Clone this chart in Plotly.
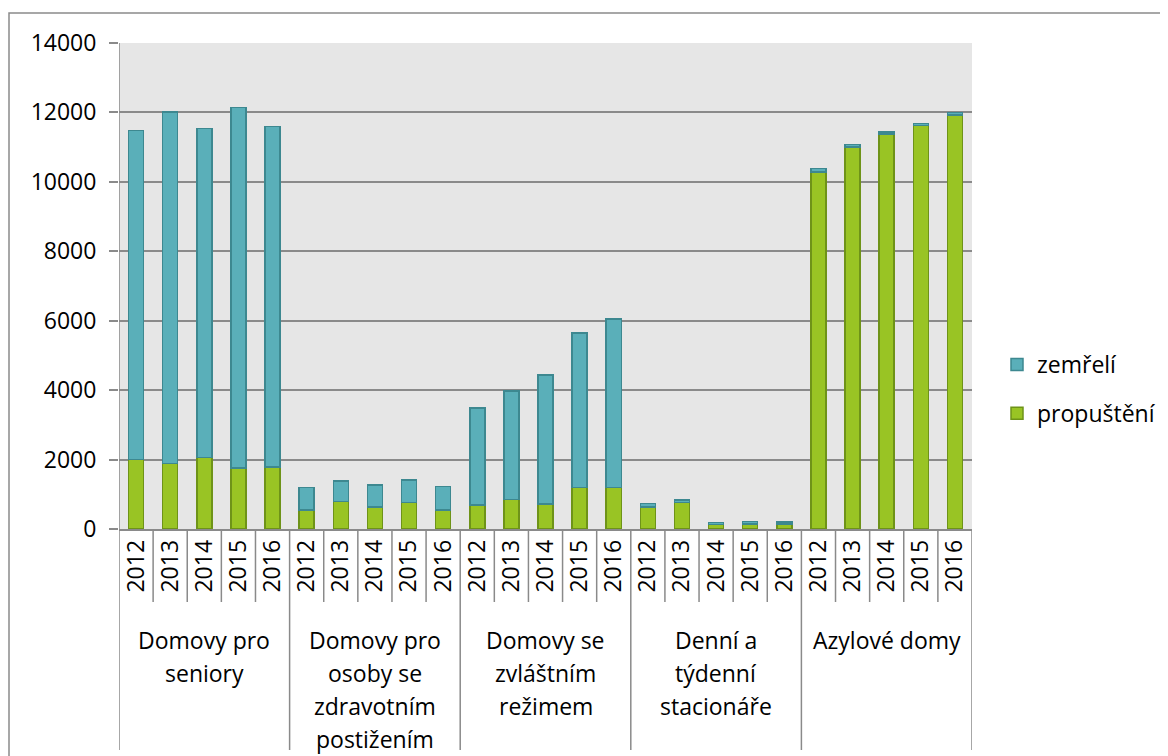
import plotly.graph_objects as go

GROUPS = [
    "Domovy pro<br>seniory",
    "Domovy pro<br>osoby se<br>zdravotním<br>postižením",
    "Domovy se<br>zvláštním<br>režimem",
    "Denní a<br>týdenní<br>stacionáře",
    "Azylové domy",
]
YEARS = ["2012", "2013", "2014", "2015", "2016"]

propusteni = [2000, 1890, 2060, 1760, 1790,
              550, 790, 640, 760, 550,
              690, 850, 720, 1190, 1200,
              640, 760, 135, 150, 145,
              10290, 11000, 11380, 11620, 11930]
zemreli = [9480, 10120, 9480, 10380, 9810,
           650, 590, 625, 650, 670,
           2800, 3130, 3710, 4460, 4850,
           100, 80, 55, 60, 55,
           100, 70, 60, 60, 70]

TEAL, TEAL_EDGE = "#5aafb9", "#3d8890"
GREEN, GREEN_EDGE = "#99c424", "#6e9318"
GRID = "#8a8a8a"
FONT = "Open Sans"
FS = 23

n_years = len(YEARS)
labels = [y for _ in GROUPS for y in YEARS]
xpos = list(range(len(labels)))

fig = go.Figure()
fig.add_trace(go.Bar(
    x=xpos, y=propusteni, name="propuštění", width=0.44,
    marker=dict(color=GREEN, line=dict(color=GREEN_EDGE, width=1.5)),
    legendgroup="p", legendrank=2,
))
fig.add_trace(go.Bar(
    x=xpos, y=zemreli, name="zemřelí", width=0.44,
    marker=dict(color=TEAL, line=dict(color=TEAL_EDGE, width=1.5)),
    legendgroup="z", legendrank=1,
))

# page has an 8px body margin, so the figure is drawn 8px smaller
OFF = 8
W, H = 1168 - OFF, 756 - OFF
L, T = 119 - OFF, 43 - OFF
plot_w, plot_h = 853, 486
R = W - L - plot_w
B = H - T - plot_h


def py(page_y):
    # page pixel row -> paper y
    return (T + plot_h - (page_y - OFF)) / plot_h


def px_(page_x):
    # page pixel column -> paper x
    return (page_x - OFF - L) / plot_w


shapes = []
# separators between years (short) and between groups (long)
for i in range(len(labels) + 1):
    xb = i - 0.5
    is_group = i % n_years == 0
    shapes.append(dict(
        type="line", xref="x", yref="paper",
        x0=xb, x1=xb,
        y0=1 if i == 0 else 0,
        y1=py(750) if is_group else py(602),
        line=dict(color=GRID, width=1.5),
    ))
# outer frame
shapes.append(dict(
    type="rect", xref="paper", yref="paper",
    x0=px_(9), x1=1.5, y0=-1, y1=py(13),
    line=dict(color=GRID, width=1.5), fillcolor="rgba(0,0,0,0)", layer="below",
))

annotations = []
for g, name in enumerate(GROUPS):
    xc = g * n_years + (n_years - 1) / 2
    for k, line in enumerate(name.split("<br>")):
        annotations.append(dict(
            x=xc, xref="x", y=py(640 + 33 * k), yref="paper",
            text=line, showarrow=False, xanchor="center", yanchor="middle",
            font=dict(family=FONT, size=FS, color="#000000"),
        ))

fig.update_layout(
    width=W, height=H,
    margin=dict(l=L, r=R, t=T, b=B, autoexpand=False),
    barmode="stack",
    paper_bgcolor="white",
    plot_bgcolor="#e6e6e6",
    font=dict(family=FONT, size=FS, color="#000000"),
    showlegend=True,
    legend=dict(
        xref="container", yref="container",
        x=(997 - OFF) / W, xanchor="left",
        y=1 - (389 - OFF) / H, yanchor="middle",
        traceorder="grouped", tracegroupgap=16,
        itemwidth=30,
        font=dict(family=FONT, size=FS, color="#000000"),
        bgcolor="rgba(0,0,0,0)",
    ),
    xaxis=dict(
        range=[-0.5, len(labels) - 0.5],
        tickmode="array", tickvals=xpos, ticktext=labels,
        tickangle=-90, ticks="", showgrid=False, zeroline=False,
        showline=True, linecolor=GRID, linewidth=1.5,
        tickfont=dict(family=FONT, size=FS, color="#000000"),
    ),
    yaxis=dict(
        range=[0, 14000], dtick=2000, tick0=0, tickformat="d",
        showgrid=True, gridcolor=GRID, gridwidth=1.5,
        zeroline=False, showline=False,
        ticks="outside", ticklen=9, tickcolor=GRID, tickwidth=1.5,
        ticklabelstandoff=8,
        tickfont=dict(family=FONT, size=FS, color="#000000"),
    ),
    shapes=shapes,
    annotations=annotations,
)

fig.write_html("out.html")
